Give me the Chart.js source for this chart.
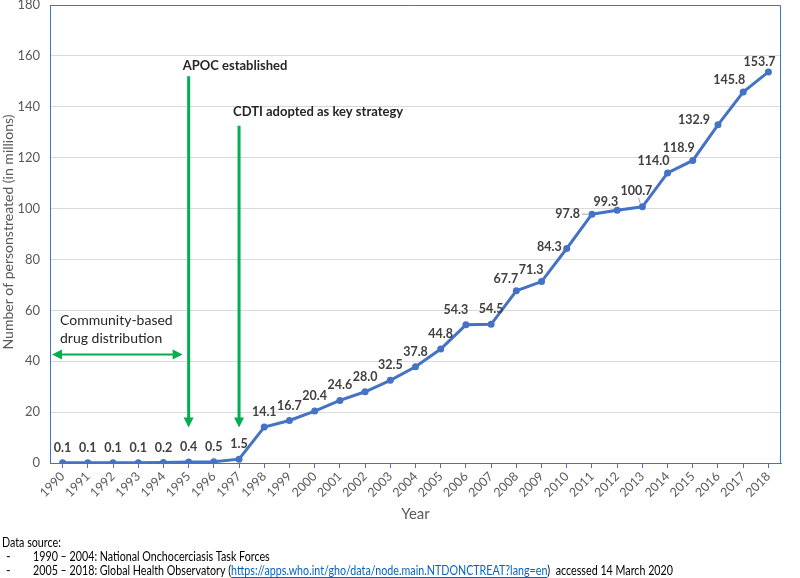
<!DOCTYPE html>
<html>
<head>
<meta charset="utf-8">
<script src="https://cdn.jsdelivr.net/npm/chart.js@4/dist/chart.umd.min.js"></script>
<style>
html,body{margin:0;padding:0;background:#fff;}
</style>
</head>
<body>
<canvas id="grafica" width="800" height="578"></canvas>
<script>

var anios = ['1990','1991','1992','1993','1994','1995','1996','1997','1998','1999',
             '2000','2001','2002','2003','2004','2005','2006','2007','2008','2009',
             '2010','2011','2012','2013','2014','2015','2016','2017','2018'];
var tratados = [0.1,0.1,0.1,0.1,0.2,0.4,0.5,1.5,14.1,16.7,
                20.4,24.6,28.0,32.5,37.8,44.8,54.3,54.5,67.7,71.3,
                84.3,97.8,99.3,100.7,114.0,118.9,132.9,145.8,153.7];
var ejeYmin = 0;
var ejeYmax = 180;
var ejeYpaso = 20;
var tituloY = 'Number of personstreated (in millions)';

// flechas verdes: texto, año donde cae, valor arriba / abajo
var hitos = [
    {texto:'APOC established', anio:'1995', desde:152, hasta:14, textoY:156},
    {texto:'CDTI adopted as key strategy', anio:'1997', desde:132.5, hasta:14, textoY:138}
];
var comunidad = ['Community-based','drug distribution'];
var comunidadY = [56, 49];
var comunidadFlecha = 42.6;

var fuente = ['Data source:',
              '1990 \u2013 2004: National Onchocerciasis Task Forces',
              ['2005 \u2013 2018: Global Health Observatory (',
               'https://apps.who.int/gho/data/node.main.NTDONCTREAT?lang=en',
               ')  accessed 14 March 2020']];

// etiquetas que no siguen la regla general (dx, dy, linea guia)
var ajustes = {
    '2006':[-10,-15,false],
    '2010':[-5,-2,false],
    '2011':[-12,0,true],
    '2012':[1,-8,false],
    '2013':[10,-16,true],
    '2016':[-8,-5,false],
    '2018':[7,-10,false]
};

var azul = '#4472c4';
var verde = '#00b050';
var gris = '#595959';

function punta(ctx, x, y, dx, dy){
    var px = -dy, py = dx;
    ctx.beginPath();
    ctx.moveTo(x, y);
    ctx.lineTo(x - dx*10 + px*5, y - dy*10 + py*5);
    ctx.lineTo(x - dx*10 - px*5, y - dy*10 - py*5);
    ctx.closePath();
    ctx.fill();
}

var marco = {
    id:'marco',
    beforeDatasetsDraw: function(chart){
        var a = chart.chartArea, ctx = chart.ctx;
        ctx.save();
        ctx.strokeStyle = azul;
        ctx.lineWidth = 1;
        ctx.beginPath();
        ctx.moveTo(a.left, a.top + 0.5);
        ctx.lineTo(a.right - 0.5, a.top + 0.5);
        ctx.lineTo(a.right - 0.5, a.bottom);
        ctx.stroke();
        ctx.restore();
    }
};

var etiquetas = {
    id:'etiquetas',
    afterDatasetsDraw: function(chart){
        var ctx = chart.ctx;
        var meta = chart.getDatasetMeta(0);
        ctx.save();
        ctx.font = 'bold 12.5px Lato';
        ctx.textBaseline = 'middle';
        meta.data.forEach(function(p, i){
            var v = tratados[i];
            var txt = v.toFixed(1);
            var aj = ajustes[anios[i]];
            ctx.fillStyle = '#404040';
            if(v < 60 && !aj){
                ctx.textAlign = 'center';
                ctx.fillText(txt, p.x, p.y - 15);
                return;
            }
            if(v < 60){
                ctx.textAlign = 'center';
                ctx.fillText(txt, p.x + aj[0], p.y + aj[1]);
                return;
            }
            var dx = aj ? aj[0] : 2, dy = aj ? aj[1] : -12;
            ctx.textAlign = 'right';
            ctx.fillText(txt, p.x + dx, p.y + dy);
            if(aj && aj[2]){
                ctx.strokeStyle = '#a6a6a6';
                ctx.lineWidth = 1;
                ctx.beginPath();
                if(dx < 0){
                    ctx.moveTo(p.x + dx + 2, p.y + dy);
                    ctx.lineTo(p.x - 4, p.y);
                } else {
                    ctx.moveTo(p.x + dx - 14, p.y + dy + 7);
                    ctx.lineTo(p.x - 2, p.y - 3);
                }
                ctx.stroke();
            }
        });
        ctx.restore();
    }
};

var notas = {
    id:'notas',
    afterDraw: function(chart){
        var ctx = chart.ctx;
        var x = chart.scales.x, y = chart.scales.y;
        var a = chart.chartArea;
        ctx.save();

        // titulo del eje y, comprimido a lo ancho
        ctx.font = '13px Lato';
        ctx.fillStyle = gris;
        ctx.textAlign = 'center';
        ctx.textBaseline = 'middle';
        var wt = ctx.measureText(tituloY).width;
        ctx.save();
        ctx.translate(9, (a.top + a.bottom) / 2 - 2);
        ctx.rotate(-Math.PI / 2);
        ctx.scale(235 / wt, 1);
        ctx.fillText(tituloY, 0, 0);
        ctx.restore();

        ctx.strokeStyle = verde;
        ctx.fillStyle = verde;
        ctx.lineWidth = 3;
        hitos.forEach(function(h){
            var px = x.getPixelForValue(anios.indexOf(h.anio));
            var y1 = y.getPixelForValue(h.desde);
            var y2 = y.getPixelForValue(h.hasta);
            ctx.beginPath();
            ctx.moveTo(px, y1);
            ctx.lineTo(px, y2 - 8);
            ctx.stroke();
            punta(ctx, px, y2, 0, 1);
        });
        // flecha doble horizontal
        var yf = y.getPixelForValue(comunidadFlecha);
        var xi = a.left + 2;
        var xf = x.getPixelForValue(anios.indexOf('1995')) - 6;
        ctx.lineWidth = 2;
        ctx.beginPath();
        ctx.moveTo(xi + 8, yf);
        ctx.lineTo(xf - 8, yf);
        ctx.stroke();
        punta(ctx, xi, yf, -1, 0);
        punta(ctx, xf, yf, 1, 0);

        ctx.fillStyle = '#262626';
        ctx.textAlign = 'left';
        ctx.font = 'bold 13px Lato';
        hitos.forEach(function(h){
            var px = x.getPixelForValue(anios.indexOf(h.anio));
            ctx.fillText(h.texto, px - 6, y.getPixelForValue(h.textoY));
        });
        ctx.font = '14px Lato';
        comunidad.forEach(function(t, i){
            ctx.fillText(t, a.left + 10, y.getPixelForValue(comunidadY[i]));
        });

        // fuente de datos
        ctx.font = '12.5px Lato';
        ctx.fillStyle = '#000';
        var l3 = fuente[2];
        var anchos = l3.map(function(s){ return ctx.measureText(s).width; });
        var total = anchos[0] + anchos[1] + anchos[2];
        var esc = 640 / total;
        ctx.save();
        ctx.translate(2, 543);
        ctx.scale(esc, 1);
        ctx.fillText(fuente[0], 0, 0);
        ctx.restore();
        ctx.fillText('-', 6, 557);
        ctx.fillText('-', 6, 571);
        ctx.save();
        ctx.translate(33, 557);
        ctx.scale(esc, 1);
        ctx.fillText(fuente[1], 0, 0);
        ctx.restore();
        ctx.save();
        ctx.translate(33, 571);
        ctx.scale(esc, 1);
        ctx.fillText(l3[0], 0, 0);
        ctx.fillStyle = '#0563c1';
        ctx.fillText(l3[1], anchos[0], 0);
        ctx.fillRect(anchos[0], 6, anchos[1], 1);
        ctx.fillStyle = '#000';
        ctx.fillText(l3[2], anchos[0] + anchos[1], 0);
        ctx.restore();
        ctx.restore();
    }
};

Chart.defaults.font.family = 'Lato';

var chart = new Chart(document.getElementById('grafica'), {
    type:'line',
    data:{
        labels: anios,
        datasets:[{
            label:'Number of persons treated',
            data: tratados,
            borderColor: azul,
            backgroundColor: azul,
            borderWidth: 3,
            pointRadius: 3.5,
            pointBackgroundColor: azul,
            pointBorderWidth: 0,
            tension: 0
        }]
    },
    options:{
        responsive:false,
        animation:false,
        layout:{padding:{top:5, right:19, bottom:55, left:0}},
        plugins:{legend:{display:false}, tooltip:{enabled:false}},
        scales:{
            x:{
                offset:true,
                grid:{drawOnChartArea:false, drawTicks:true, tickLength:5, color:azul},
                border:{color:azul, width:1},
                ticks:{color:gris, font:{size:12.5}, minRotation:45, maxRotation:45, padding:1, autoSkip:false},
                title:{display:true, text:'Year', color:gris, font:{size:15}, padding:{top:2,bottom:0}},
                afterFit:function(s){ s.height = 60; }
            },
            y:{
                min:ejeYmin, max:ejeYmax,
                ticks:{stepSize:ejeYpaso, color:gris, font:{size:13}, padding:10},
                grid:{color:'#d9d9d9', drawTicks:false},
                border:{color:azul, width:1},
                afterFit:function(s){ s.width = 50; s.paddingTop = 0; s.paddingBottom = 0; }
            }
        }
    },
    plugins:[marco, etiquetas, notas]
});
</script>
</body>
</html>
